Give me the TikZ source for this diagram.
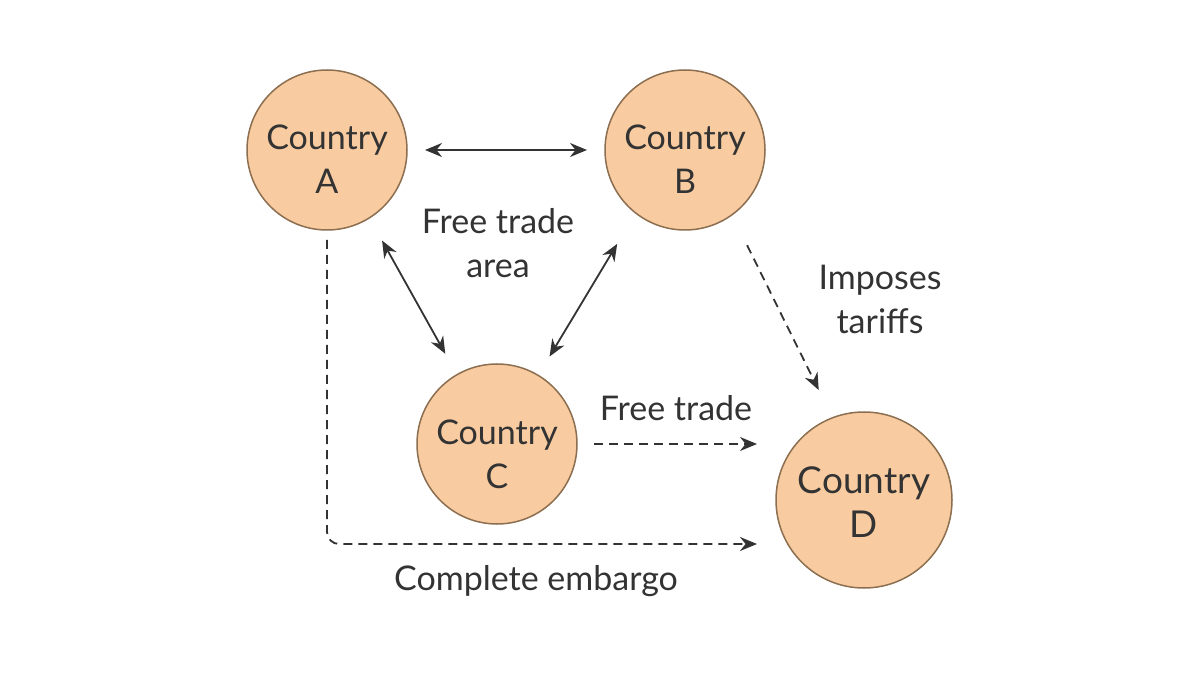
\documentclass[tikz,border=0pt]{standalone}
\usepackage{fontspec}
\setmainfont{Lato}
\usetikzlibrary{arrows.meta,calc}
\definecolor{circfill}{RGB}{248,203,160}
\definecolor{circdraw}{RGB}{140,110,80}
\definecolor{ink}{RGB}{51,51,51}
\begin{document}
\begin{tikzpicture}[x=1pt,y=-1pt,
  country/.style={circle,fill=circfill,draw=circdraw,line width=1.5pt,minimum size=160pt,inner sep=0pt,outer sep=0pt},
  lbl/.style={align=center,text=ink,font=\fontsize{34}{44}\selectfont},
  conn/.style={draw=ink,line width=1.8pt,-{Stealth[length=17pt,width=14pt]}},
  both/.style={draw=ink,line width=1.8pt,{Stealth[length=17pt,width=14pt]}-{Stealth[length=17pt,width=14pt]}},
  dconn/.style={conn,dash pattern=on 9pt off 6pt}]
\useasboundingbox (0,0) rectangle (1200,676);
\node[country] (A) at (327,150) {};
\node[country] (B) at (685,150) {};
\node[country] (C) at (497,444) {};
\node[country,minimum size=176pt] (D) at (864,500) {};
\node[lbl] (At) at (327,159.5) {Country\\A};
\node[lbl] (Bt) at (685,159.5) {Country\\B};
\node[lbl] (Ct) at (497,454) {Country\\C};
\node[lbl,font=\fontsize{37}{44}\selectfont] (Dt) at (864,502) {Country\\D};
\node[lbl] (lfta) at (498,243) {Free trade\\area};
\node[lbl] (limp) at (880,299) {Imposes\\tariffs};
\node[lbl] (lft) at (676,408) {Free trade};
\node[lbl] (lemb) at (536,581) {Complete embargo};
\draw[both,shorten <=18pt,shorten >=18pt] (A) -- (B);
\draw[both,shorten <=26pt,shorten >=24pt] (A.-58) -- (C.120);
\draw[both,shorten <=36pt,shorten >=22pt] (B.-128) -- (C.59);
\draw[dconn,shorten <=34pt,shorten >=31pt] (B.-54) -- (D.111);
\draw[dconn,shorten <=17pt,shorten >=19pt] (C.east) -- (C.east -| D.west);
\coordinate (emb) at ($(D.west)+(0,44)$);
\draw[dconn,rounded corners=12pt,shorten <=10pt,shorten >=19pt] (A.south) |- (emb);
\end{tikzpicture}
\end{document}
